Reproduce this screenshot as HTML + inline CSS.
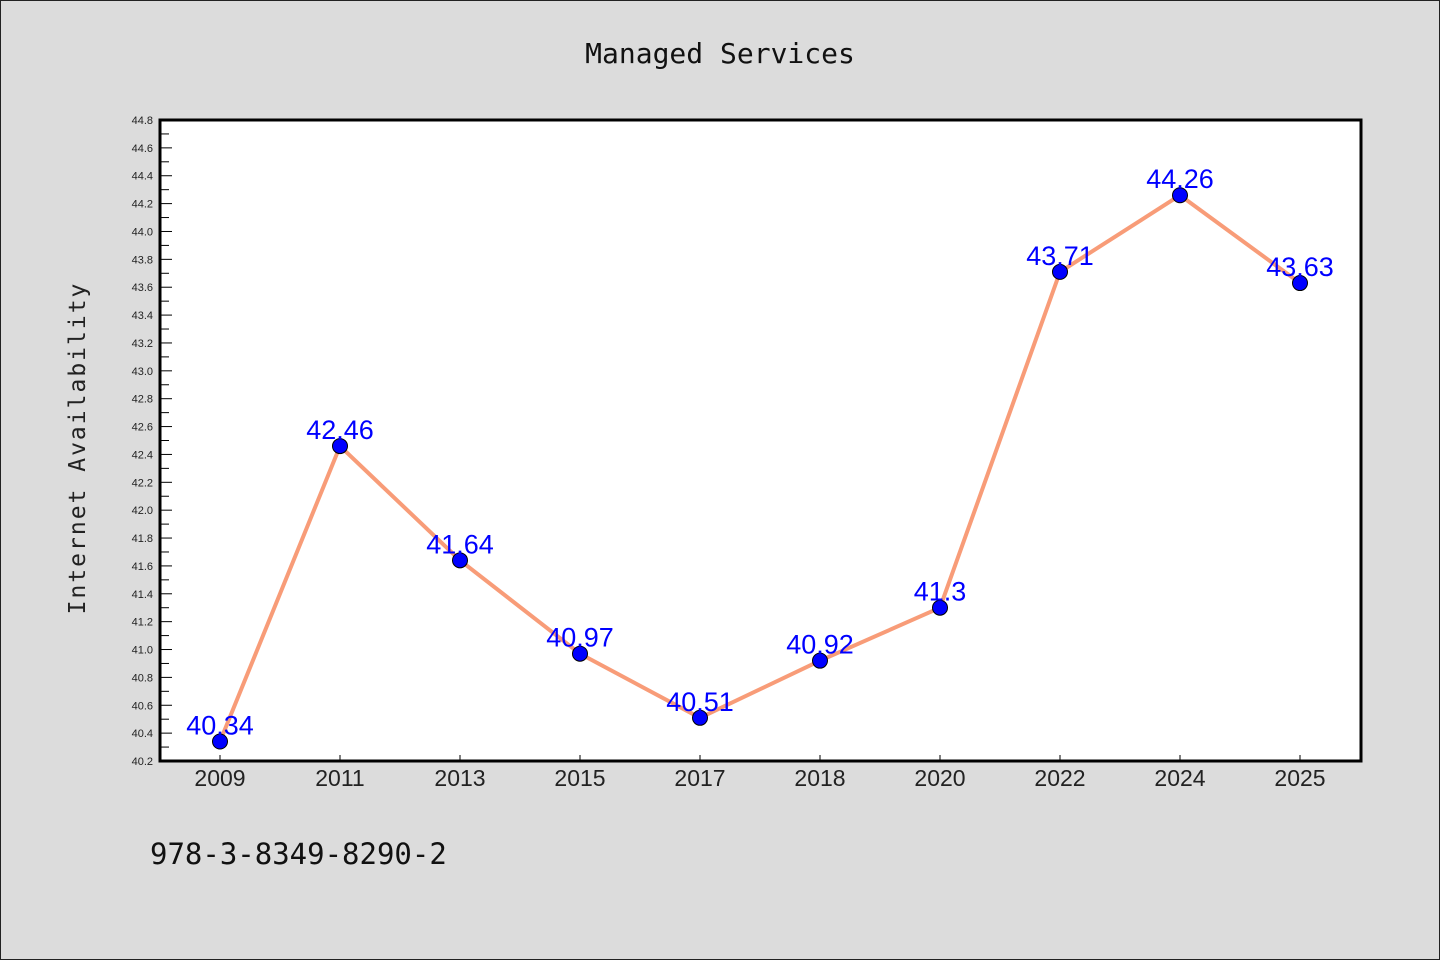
<!DOCTYPE html>
<html><head><meta charset="utf-8"><style>
body{margin:0;background:#dcdcdc;}
svg{display:block}
</style></head><body>
<svg width="1440" height="960" xmlns="http://www.w3.org/2000/svg">
<rect x="0.5" y="0.5" width="1439" height="959" fill="#dcdcdc" stroke="#222"/>
<text x="720" y="63" text-anchor="middle" font-family="DejaVu Sans Mono, Liberation Mono, monospace" font-size="28" fill="#111">Managed Services</text>
<text transform="translate(85,448) rotate(-90)" text-anchor="middle" font-family="DejaVu Sans Mono, Liberation Mono, monospace" font-size="23" letter-spacing="2" fill="#222">Internet Availability</text>
<text x="150" y="864" font-family="DejaVu Sans Mono, Liberation Mono, monospace" font-size="29" fill="#111">978-3-8349-8290-2</text>
<rect x="160" y="120" width="1201" height="641" fill="#fff"/>
<g id="ticks"></g>
<g id="series"></g>
<rect x="160" y="120" width="1201" height="641" fill="none" stroke="#000" stroke-width="3"/>
</svg>
<script>
const categories=["2009","2011","2013","2015","2017","2018","2020","2022","2024","2025"];
const values=[40.34,42.46,41.64,40.97,40.51,40.92,41.3,43.71,44.26,43.63];
const labels=["40.34","42.46","41.64","40.97","40.51","40.92","41.3","43.71","44.26","43.63"];
const yMin=40.2,yMax=44.8;
const NS="http://www.w3.org/2000/svg";
const L=160,R=1361,T=120,B=761;
function y(v){return B-(v-yMin)/(yMax-yMin)*(B-T);}
function x(i){return 220+i*(1300-220)/(categories.length-1);}
function mk(tag,attrs,parent){const e=document.createElementNS(NS,tag);for(const k in attrs)e.setAttribute(k,attrs[k]);parent.appendChild(e);return e;}
const tg=document.getElementById('ticks'),sg=document.getElementById('series');
for(let k=0;k<=46;k++){
  const v=yMin+k*0.1,yy=y(v),major=k%2===0;
  const t=mk('line',{x1:L,x2:L+(major?12:9),y1:yy,y2:yy,stroke:'#000','stroke-width':1},tg);
  
  
  if(major){
    const tx=mk('text',{x:153,y:yy+4,'text-anchor':'end','font-family':'Liberation Sans, sans-serif','font-size':11,fill:'#222'},tg);
    tx.textContent=v.toFixed(1);
    
    
  }
}
categories.forEach((c,i)=>{
  const t=mk('line',{x1:x(i),x2:x(i),y1:B,y2:B-6,stroke:'#000','stroke-width':1},tg);
  
  
  const tx=mk('text',{x:x(i),y:786,'text-anchor':'middle','font-family':'Liberation Sans, sans-serif','font-size':23,fill:'#222'},tg);
  tx.textContent=c;
  
  
});
const pts=values.map((v,i)=>x(i)+','+y(v)).join(' ');
const pl=mk('polyline',{points:pts,fill:'none',stroke:'#f89c78','stroke-width':4,'stroke-linejoin':'round'},sg);


values.forEach((v,i)=>{
  const c=mk('circle',{cx:x(i),cy:y(v),r:7.5,fill:'#0000ff',stroke:'#000','stroke-width':1},sg);
  
  
});
values.forEach((v,i)=>{
  const t=mk('text',{x:x(i),y:y(v)-7,'text-anchor':'middle','font-family':'Liberation Sans, sans-serif','font-size':27,fill:'#0000ff'},sg);
  t.textContent=labels[i];
  
  
});
</script>
</body></html>
